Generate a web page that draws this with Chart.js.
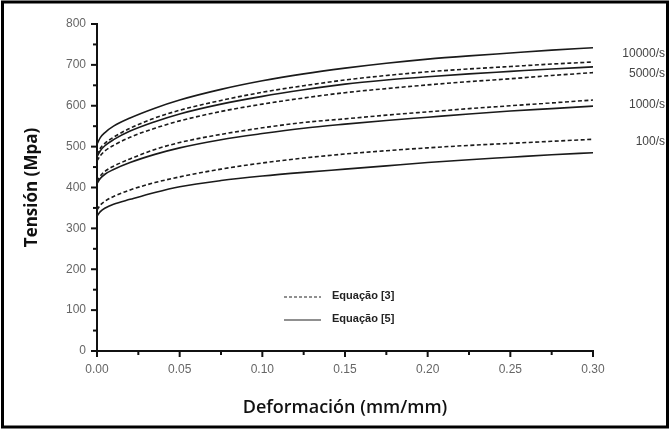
<!DOCTYPE html>
<html>
<head>
<meta charset="utf-8">
<script src="https://cdn.jsdelivr.net/npm/chart.js@4.4.0/dist/chart.umd.min.js"></script>
<style>
  html, body { margin: 0; padding: 0; background: #fff; }
  #wrap { width: 670px; height: 429px; position: relative; }
</style>
</head>
<body>
<div id="wrap"><canvas id="stressChart" width="670" height="429"></canvas></div>
<script>
// strain values (mm/mm) shared by every curve
const strain = [0, 0.002, 0.005, 0.01, 0.02, 0.035, 0.05, 0.075, 0.10, 0.125, 0.15, 0.175, 0.20, 0.225, 0.25, 0.275, 0.30];

// Equação [5] (solid) and Equação [3] (dashed), stress in MPa
const solid10000 = [506, 522, 535, 550, 570, 594, 614, 640, 661, 678, 692, 704, 714, 722, 729, 736, 742];
const dashed10000 = [480, 496, 509, 523, 545, 570, 589, 613, 633, 649, 663, 674, 683, 690, 696, 702, 707];
const solid5000 = [475, 490, 503, 517, 538, 561, 580, 604, 623, 639, 653, 663, 671, 678, 684, 690, 695];
const dashed5000 = [465, 478, 490, 503, 523, 545, 563, 586, 604, 619, 632, 642, 651, 659, 666, 674, 681];
const dashed1000 = [415, 428, 440, 452, 470, 493, 510, 530, 546, 559, 568, 577, 585, 593, 600, 607, 614];
const solid1000 = [410, 422, 433, 444, 461, 481, 497, 517, 532, 545, 555, 564, 572, 580, 587, 593, 599];
const dashed100 = [345, 357, 367, 378, 394, 412, 426, 445, 460, 472, 482, 490, 497, 503, 508, 513, 518];
const solid100 = [330, 341, 350, 359, 371, 388, 402, 417, 428, 437, 445, 453, 461, 468, 474, 480, 485];

// strain-rate labels on the right, with the stress level they sit at
const rateLabels = ['10000/s', '5000/s', '1000/s', '100/s'];
const rateLabelStress = [727, 678, 603, 512];

const legendLabels = ['Equação [3]', 'Equação [5]'];

function pts(arr) {
    return strain.map((e, i) => ({ x: e, y: arr[i] }));
}

function curve(label, arr, dashed) {
    return {
        label: label,
        data: pts(arr),
        borderColor: '#1a1a1a',
        borderWidth: 1.6,
        borderDash: dashed ? [4, 2.5] : [],
        pointRadius: 0,
        fill: false,
        cubicInterpolationMode: 'monotone'
    };
}

// tick marks, right-hand labels, legend and frame
const extras = {
    id: 'extras',
    afterDraw(chart) {
        const ctx = chart.ctx;
        const xs = chart.scales.x, ys = chart.scales.y;
        const area = chart.chartArea;
        ctx.save();
        ctx.strokeStyle = '#111';
        ctx.lineWidth = 2;
        // y ticks
        for (let v = 0; v <= 800; v += 50) {
            const y = ys.getPixelForValue(v);
            const len = v % 100 === 0 ? 6 : 4;
            ctx.beginPath();
            ctx.moveTo(area.left, y);
            ctx.lineTo(area.left - len, y);
            ctx.stroke();
        }
        // x ticks
        for (let i = 0; i <= 12; i++) {
            const x = xs.getPixelForValue(i * 0.025);
            const len = i % 2 === 0 ? 6 : 4;
            ctx.beginPath();
            ctx.moveTo(x, area.bottom);
            ctx.lineTo(x, area.bottom + len);
            ctx.stroke();
        }

        // rate labels
        ctx.fillStyle = '#444';
        ctx.font = '12px "Liberation Sans", Arial, sans-serif';
        ctx.textAlign = 'right';
        ctx.textBaseline = 'middle';
        rateLabels.forEach((t, i) => {
            ctx.fillText(t, 665, ys.getPixelForValue(rateLabelStress[i]));
        });

        // legend
        ctx.lineWidth = 1.2;
        ctx.strokeStyle = '#222';
        const lx = 284, ly = [297, 320];
        ctx.setLineDash([3, 2]);
        ctx.beginPath(); ctx.moveTo(lx, ly[0]); ctx.lineTo(lx + 37, ly[0]); ctx.stroke();
        ctx.setLineDash([]);
        ctx.beginPath(); ctx.moveTo(lx, ly[1]); ctx.lineTo(lx + 37, ly[1]); ctx.stroke();
        ctx.fillStyle = '#222';
        ctx.font = 'bold 11px "Liberation Sans", Arial, sans-serif';
        ctx.textAlign = 'left';
        legendLabels.forEach((t, i) => ctx.fillText(t, lx + 48, ly[i] - 1));

        // outer frame
        ctx.strokeStyle = '#000';
        ctx.lineWidth = 3;
        ctx.strokeRect(2.5, 2, 665, 425);
        ctx.restore();
    }
};

new Chart(document.getElementById('stressChart').getContext('2d'), {
    type: 'line',
    data: {
        datasets: [
            curve('10000/s Eq.5', solid10000, false),
            curve('10000/s Eq.3', dashed10000, true),
            curve('5000/s Eq.5', solid5000, false),
            curve('5000/s Eq.3', dashed5000, true),
            curve('1000/s Eq.3', dashed1000, true),
            curve('1000/s Eq.5', solid1000, false),
            curve('100/s Eq.3', dashed100, true),
            curve('100/s Eq.5', solid100, false)
        ]
    },
    options: {
        responsive: false,
        animation: false,
        layout: { padding: { left: 0, right: 77, top: 24, bottom: 0 } },
        plugins: { legend: { display: false }, tooltip: { enabled: false } },
        scales: {
            x: {
                type: 'linear',
                min: 0, max: 0.30,
                afterFit: s => { s.height = 78; },
                ticks: {
                    stepSize: 0.05,
                    padding: 11,
                    color: '#666',
                    font: { family: '"Liberation Sans", Arial, sans-serif', size: 12 },
                    callback: v => v.toFixed(2)
                },
                grid: { display: true, drawOnChartArea: false, drawTicks: false },
                border: { display: true, color: '#111', width: 2 },
                title: {
                    display: true,
                    text: 'Deformación (mm/mm)',
                    color: '#111',
                    font: { family: '"Open Sans", sans-serif', size: 18, weight: '600' },
                    padding: { top: 0, bottom: 10 }
                }
            },
            y: {
                min: 0, max: 800,
                afterFit: s => { s.width = 97; },
                ticks: {
                    stepSize: 100,
                    padding: 11,
                    color: '#666',
                    font: { family: '"Liberation Sans", Arial, sans-serif', size: 12 }
                },
                grid: { display: true, drawOnChartArea: false, drawTicks: false },
                border: { display: true, color: '#111', width: 2 },
                title: {
                    display: true,
                    text: 'Tensión (Mpa)',
                    color: '#111',
                    font: { family: '"Open Sans", sans-serif', size: 17, weight: 'bold' },
                    padding: { top: 22, bottom: 0 }
                }
            }
        }
    },
    plugins: [extras]
});
</script>
</body>
</html>
